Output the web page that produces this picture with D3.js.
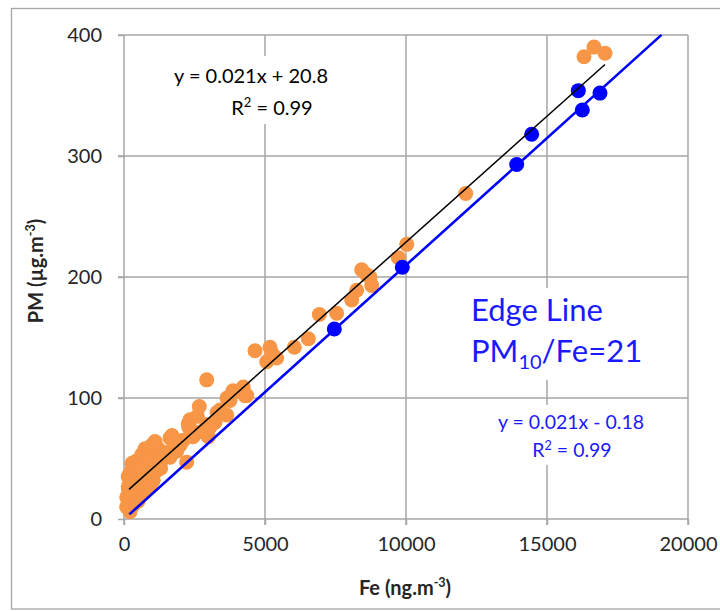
<!DOCTYPE html>
<html>
<head>
<meta charset="utf-8">
<script src="https://cdn.jsdelivr.net/npm/d3@7"></script>
<style>
  html, body { margin: 0; padding: 0; background: #fff; }
  svg { display: block; }
  text { font-family: Lato, "Open Sans", "DejaVu Sans", sans-serif; }
</style>
</head>
<body>
<svg id="chart" width="720" height="611"></svg>
<script>
// ---------- data ----------
const xTicks = [0, 5000, 10000, 15000, 20000];
const yTicks = [0, 100, 200, 300, 400];

// All samples (orange)
const allFe = [16312, 16667, 17057, 12117, 10025, 9728, 8429, 8600, 8723, 8783, 8251, 8074, 7541, 6926, 6537, 6039, 5177, 4645, 5060, 5414, 5250,
  2933, 3865, 4230, 4291, 3652, 2670, 2340, 2280, 2933, 2518, 2813, 3404, 3759, 3936, 4350, 3641, 3227, 3050, 2990,
  1631, 982, 745, 628, 1217, 2222, 1631, 1868, 1986, 330, 213, 152, 96, 96, 213, 684, 922, 1039, 567, 804, 1160, 1277,
  684, 450, 300, 400, 150, 250, 1400, 1100, 2100, 2600, 1800, 284, 1100, 1700, 2294, 213, 155, 500, 350, 800, 1300, 1500, 600, 2450, 3300];
const allPM = [382, 390, 385, 269, 227, 216, 206, 202, 200, 193, 189, 181, 170, 169, 149, 142, 142, 139, 130, 133, 137,
  115, 106, 109, 102, 100, 93, 82, 79, 78, 72, 72, 90, 98, 105, 102, 86, 80, 76, 68,
  67, 61, 58, 53, 58, 47, 51, 56, 61, 43, 38, 27, 18, 10, 6, 21, 27, 32, 35, 40, 40, 46,
  49, 48, 30, 25, 35, 20, 50, 50, 65, 85, 62, 46, 64, 69, 76, 16, 25, 15, 12, 30, 42, 55, 40, 68, 88];

// Edge samples (blue)
const edgeFe = [7458, 9869, 13925, 14457, 16110, 16252, 16879];
const edgePM = [157, 208, 293, 318, 354, 338, 352];

// Fits
const allFit = { slope: 0.0208, intercept: 20.8, xFrom: 177, xTo: 17057 };
const edgeFit = { slope: 0.021, intercept: -0.18, xFrom: 190, xTo: 19060 };

const allEqLines = ["y = 0.021x + 20.8", "R² = 0.99"];
const edgeEqLines = ["y = 0.021x - 0.18", "R² = 0.99"];

// ---------- layout ----------
const svg = d3.select("#chart");
const W = 720, H = 611;
const m = { left: 124, top: 35, right: 32, bottom: 92 };
const x = d3.scaleLinear().domain([0, 20000]).range([m.left, W - m.right]);
const y = d3.scaleLinear().domain([0, 400]).range([H - m.bottom, m.top]);

const gridColor = "#a6a6a6";

// outer frame
svg.append("rect").attr("x", 11.5).attr("y", 8.5).attr("width", 720).attr("height", 600.5)
  .attr("fill", "none").attr("stroke", "#a6a6a6").attr("stroke-width", 1.3);

// gridlines
const grid = svg.append("g");
grid.selectAll(".vg").data(xTicks.slice(1)).join("line")
  .attr("x1", d => x(d)).attr("x2", d => x(d))
  .attr("y1", y(400)).attr("y2", y(0) + 6)
  .attr("stroke", gridColor).attr("stroke-width", 1.5);
grid.selectAll(".hg").data(yTicks.slice(1)).join("line")
  .attr("x1", x(0) - 6).attr("x2", x(20000))
  .attr("y1", d => y(d)).attr("y2", d => y(d))
  .attr("stroke", gridColor).attr("stroke-width", 1.5);

// axes
const xAxis = svg.append("g").attr("transform", `translate(0,${y(0)})`)
  .call(d3.axisBottom(x).tickValues(xTicks).tickSize(6).tickPadding(12).tickFormat(d3.format("d")));
const yAxis = svg.append("g").attr("transform", `translate(${x(0)},0)`)
  .call(d3.axisLeft(y).tickValues(yTicks).tickSize(6).tickPadding(16).tickFormat(d3.format("d")));
[xAxis, yAxis].forEach(a => {
  a.select(".domain").attr("stroke", gridColor).attr("stroke-width", 1.5);
  a.selectAll(".tick line").attr("stroke", gridColor).attr("stroke-width", 1.5);
  a.selectAll(".tick text").attr("fill", "#262626").attr("font-size", 20)
    .style("font-family", "Lato, 'Open Sans', sans-serif");
});
xAxis.select(".domain").attr("d", `M${x(0)},0H${x(20000)}`);
yAxis.select(".domain").attr("d", `M0,${y(0) + 6}V${y(400)}`);

// text boxes (white, hiding gridlines)
svg.append("rect").attr("x", 170).attr("y", 56).attr("width", 160).attr("height", 68).attr("fill", "#fff");
svg.append("rect").attr("x", 465).attr("y", 288).attr("width", 185).attr("height", 92).attr("fill", "#fff");
svg.append("rect").attr("x", 488).attr("y", 405).attr("width", 168).attr("height", 60).attr("fill", "#fff");

// points
svg.append("g").selectAll("circle").data(allFe.map((d, i) => [d, allPM[i]])).join("circle")
  .attr("cx", d => x(d[0])).attr("cy", d => y(d[1])).attr("r", 7.5)
  .attr("fill", "#f79646");
svg.append("g").selectAll("circle").data(edgeFe.map((d, i) => [d, edgePM[i]])).join("circle")
  .attr("cx", d => x(d[0])).attr("cy", d => y(d[1])).attr("r", 7.5)
  .attr("fill", "#0000ff");

// fit lines
const fitLine = f => [f.xFrom, f.xTo].map(v => [x(v), y(f.slope * v + f.intercept)]);
svg.append("path").attr("d", d3.line()(fitLine(edgeFit)))
  .attr("stroke", "#0000ff").attr("stroke-width", 2.6).attr("fill", "none");
svg.append("path").attr("d", d3.line()(fitLine(allFit)))
  .attr("stroke", "#000").attr("stroke-width", 1.5).attr("fill", "none");

// equation text with a proper superscript for "²"
function eqText(sel, fs) {
  sel.each(function(d) {
    const t = d3.select(this);
    const parts = d.split("²");
    t.append("tspan").text(parts[0]);
    if (parts.length > 1) {
      t.append("tspan").attr("font-size", fs * 0.65).attr("dy", -fs * 0.38).text("2");
      t.append("tspan").attr("dy", fs * 0.38).text(parts[1]);
    }
  });
}
svg.append("g").selectAll("text").data(allEqLines).join("text")
  .attr("x", (d, i) => i === 0 ? 251 : 272).attr("y", (d, i) => 83 + i * 32)
  .attr("text-anchor", "middle").attr("font-size", 20).attr("fill", "#000")
  .call(eqText, 20);
svg.append("g").selectAll("text").data(edgeEqLines).join("text")
  .attr("x", (d, i) => i === 0 ? 571 : 572).attr("y", (d, i) => 429 + i * 28)
  .attr("text-anchor", "middle").attr("font-size", 19.5).attr("fill", "#1a1aff")
  .call(eqText, 19.5);

// Edge line label
svg.append("text").attr("x", 471).attr("y", 321).attr("font-size", 31).attr("fill", "#1a1aff").text("Edge Line");
const pmt = svg.append("text").attr("x", 471).attr("y", 362).attr("font-size", 31).attr("fill", "#1a1aff");
pmt.append("tspan").text("PM");
pmt.append("tspan").attr("font-size", 20).attr("dy", 7).text("10");
pmt.append("tspan").attr("dy", -7).text("/Fe=21");

// axis titles
const xt = svg.append("text").attr("x", 405).attr("y", 595).attr("text-anchor", "middle")
  .attr("font-size", 20).attr("font-weight", "bold").attr("fill", "#262626");
xt.append("tspan").text("Fe (ng.m");
xt.append("tspan").attr("font-size", 12.5).attr("dy", -8).text("-3");
xt.append("tspan").attr("dy", 8).text(")");

const yt = svg.append("text").attr("transform", `translate(43,271) rotate(-90)`).attr("text-anchor", "middle")
  .attr("font-size", 20).attr("font-weight", "bold").attr("fill", "#262626");
yt.append("tspan").text("PM (µg.m");
yt.append("tspan").attr("font-size", 12.5).attr("dy", -8).text("-3");
yt.append("tspan").attr("dy", 8).text(")");
</script>
</body>
</html>
